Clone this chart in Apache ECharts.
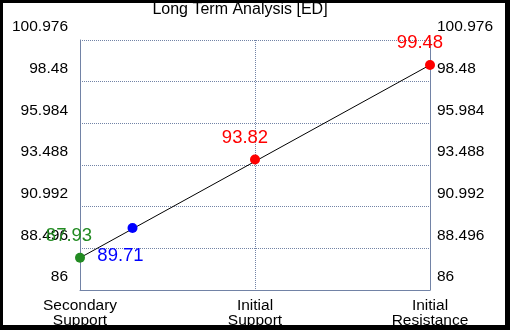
<!DOCTYPE html>
<html>
<head>
<meta charset="utf-8">
<script src="https://cdn.jsdelivr.net/npm/echarts@6/dist/echarts.min.js"></script>
<style>
  html, body { margin: 0; padding: 0; background: #fff; }
  #chart { position: absolute; left: 0; top: 0; width: 510px; height: 330px; }
  #frame {
    position: absolute; left: 0; top: 0; width: 510px; height: 330px;
    box-sizing: border-box; border-style: solid; border-color: #000;
    border-width: 3px 5px 5px 3px; pointer-events: none;
  }
</style>
</head>
<body>
<div id="chart"></div>
<div id="frame"></div>
<script>
// categories along x (positions 0, 1, 2)
const categories = ["Secondary\nSupport", "Initial\nSupport", "Initial\nResistance"];
// y ticks
const yTicks = [86, 88.496, 90.992, 93.488, 95.984, 98.48, 100.976];
// points: [x position, value]
const greenPoint = [0, 87.93];
const bluePoint = [0.3, 89.71];
const redPoints = [[1, 93.82], [2, 99.48]];
// trend line end points
const trendLine = [[0, 87.93], [2, 99.48]];

const axisColor = "#7283a6";
const font = "Liberation Sans, Arial, sans-serif";

let myChart = echarts.init(document.getElementById("chart"));

const yLabel = (side) => ({
  color: "#000",
  fontSize: 15.5,
  fontFamily: font,
  margin: side === "left" ? 12 : 7,
  // labels sit above their grid line
  verticalAlign: "bottom",
  lineHeight: 26,
  showMinLabel: true,
  showMaxLabel: true,
  formatter: (v) => {
    const t = yTicks.find((x) => Math.abs(x - v) < 1e-6);
    return t === undefined ? "" : String(t);
  },
});

const pointLabel = (color, offset) => ({
  show: true, position: "inside", offset: offset,
  color: color, fontSize: 18.5, fontFamily: font,
  formatter: (p) => p.value[1].toFixed(2),
});

let option = {
  animation: false,
  title: {
    text: "Long Term Analysis [ED]",
    left: 240,
    textAlign: "center",
    top: 2,
    padding: 0,
    textStyle: { color: "#000", fontSize: 16, fontWeight: "normal", fontFamily: font },
  },
  grid: { left: 80, right: 80, top: 40, bottom: 40 },
  xAxis: {
    type: "value",
    min: 0,
    max: 2,
    interval: 1,
    axisLine: { show: true, lineStyle: { color: axisColor } },
    axisTick: { show: false },
    axisLabel: {
      color: "#000",
      fontSize: 15.5,
      fontFamily: font,
      lineHeight: 15,
      margin: 8,
      showMinLabel: true,
      showMaxLabel: true,
      formatter: (v) => categories[Math.round(v)] || "",
    },
    splitLine: { show: true, lineStyle: { color: axisColor, type: "dotted" } },
  },
  yAxis: [
    {
      type: "value",
      min: yTicks[0],
      max: yTicks[yTicks.length - 1],
      interval: 2.496,
      position: "left",
      axisLine: { show: true, lineStyle: { color: axisColor } },
      axisTick: { show: false },
      axisLabel: yLabel("left"),
      splitLine: { show: true, lineStyle: { color: axisColor, type: "dotted" } },
    },
    {
      type: "value",
      min: yTicks[0],
      max: yTicks[yTicks.length - 1],
      interval: 2.496,
      position: "right",
      axisLine: { show: true, lineStyle: { color: axisColor } },
      axisTick: { show: false },
      axisLabel: yLabel("right"),
      splitLine: { show: false },
    },
  ],
  series: [
    {
      type: "line",
      data: trendLine,
      symbol: "none",
      lineStyle: { color: "#000", width: 1 },
      z: 2,
    },
    {
      type: "scatter",
      symbolSize: 10,
      z: 3,
      itemStyle: { color: "#228b22", opacity: 1 },
      data: [greenPoint],
      label: pointLabel("#228b22", [-11, -22]),
    },
    {
      type: "scatter",
      symbolSize: 10,
      z: 3,
      itemStyle: { color: "#0000ff", opacity: 1 },
      data: [bluePoint],
      label: pointLabel("#0000ff", [-12, 28]),
    },
    {
      type: "scatter",
      symbolSize: 10,
      z: 3,
      itemStyle: { color: "#ff0000", opacity: 1 },
      data: redPoints,
      label: pointLabel("#ff0000", [-10, -22]),
    },
  ],
};
myChart.setOption(option);
</script>
</body>
</html>
